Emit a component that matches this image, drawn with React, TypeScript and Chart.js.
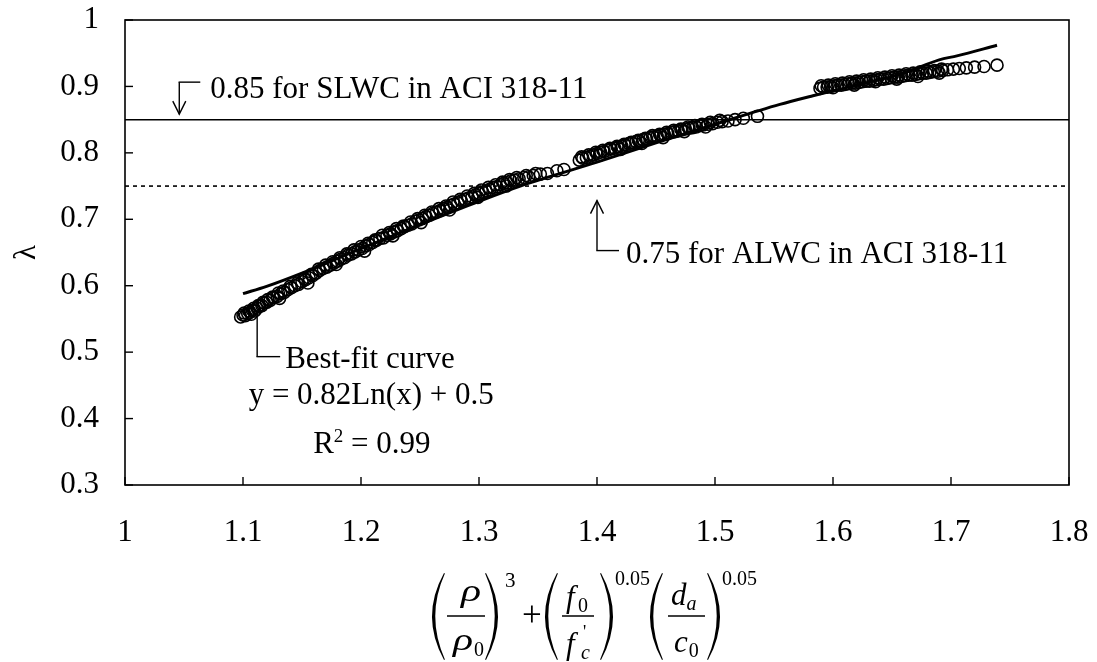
import React, { useEffect, useRef } from 'react';
import { Chart, registerables } from 'chart.js';

Chart.register(...registerables);

const xTickLabels = ['1', '1.1', '1.2', '1.3', '1.4', '1.5', '1.6', '1.7', '1.8'];
const yTickLabels = ['0.3', '0.4', '0.5', '0.6', '0.7', '0.8', '0.9', '1'];
const xAxisRange = [1, 1.8];
const yAxisRange = [0.3, 1];

const scatterX = [
  1.098, 1.100, 1.102, 1.104, 1.106, 1.108, 1.110, 1.112, 1.114, 1.116, 1.118, 1.120,
  1.123, 1.126, 1.129, 1.132, 1.135, 1.138, 1.141, 1.144, 1.147, 1.150, 1.153, 1.156,
  1.159, 1.162, 1.165, 1.168, 1.171, 1.174, 1.177, 1.180, 1.183, 1.186, 1.189, 1.192,
  1.195, 1.198, 1.201, 1.204, 1.207, 1.210, 1.213, 1.216, 1.219, 1.222, 1.225, 1.228,
  1.231, 1.234, 1.237, 1.240, 1.243, 1.246, 1.249, 1.252, 1.255, 1.258, 1.261, 1.264,
  1.267, 1.270, 1.273, 1.276, 1.279, 1.282, 1.285, 1.288, 1.291, 1.294, 1.297, 1.300,
  1.303, 1.306, 1.309, 1.312, 1.315, 1.318, 1.321, 1.324, 1.327, 1.330, 1.334, 1.338,
  1.342, 1.346, 1.352, 1.358, 1.366, 1.372,
  1.385, 1.388, 1.391, 1.394, 1.397, 1.400, 1.403, 1.406, 1.409, 1.412, 1.415, 1.418,
  1.421, 1.424, 1.427, 1.430, 1.433, 1.436, 1.439, 1.442, 1.445, 1.448, 1.451, 1.454,
  1.457, 1.460, 1.463, 1.466, 1.469, 1.472, 1.475, 1.478, 1.481, 1.484, 1.487, 1.490,
  1.494, 1.498, 1.502, 1.506, 1.511, 1.517, 1.524, 1.536,
  1.589, 1.592, 1.595, 1.598, 1.601, 1.604, 1.607, 1.610, 1.613, 1.616, 1.619, 1.622,
  1.625, 1.628, 1.631, 1.634, 1.637, 1.640, 1.643, 1.646, 1.649, 1.652, 1.655, 1.658,
  1.661, 1.664, 1.667, 1.670, 1.673, 1.676, 1.679, 1.682, 1.685, 1.689, 1.693, 1.697,
  1.702, 1.707, 1.713, 1.720, 1.728, 1.739,
];
const scatterY = [
  0.553, 0.556, 0.555, 0.558, 0.560, 0.563, 0.562, 0.566, 0.569, 0.570, 0.574, 0.575,
  0.578, 0.582, 0.584, 0.588, 0.590, 0.594, 0.597, 0.600, 0.602, 0.606, 0.609, 0.612,
  0.615, 0.619, 0.623, 0.626, 0.628, 0.631, 0.634, 0.637, 0.640, 0.642, 0.646, 0.648,
  0.651, 0.654, 0.656, 0.660, 0.662, 0.665, 0.668, 0.671, 0.672, 0.676, 0.678, 0.681,
  0.683, 0.686, 0.689, 0.691, 0.693, 0.697, 0.699, 0.701, 0.704, 0.706, 0.709, 0.711,
  0.713, 0.716, 0.718, 0.721, 0.723, 0.725, 0.728, 0.730, 0.732, 0.734, 0.737, 0.739,
  0.741, 0.743, 0.745, 0.748, 0.749, 0.752, 0.754, 0.755, 0.758, 0.759, 0.761, 0.763,
  0.764, 0.766, 0.768, 0.769, 0.773, 0.775,
  0.789, 0.792, 0.793, 0.795, 0.797, 0.799, 0.801, 0.802, 0.804, 0.806, 0.807, 0.809,
  0.810, 0.812, 0.814, 0.815, 0.817, 0.818, 0.820, 0.821, 0.823, 0.824, 0.825, 0.827,
  0.828, 0.829, 0.831, 0.832, 0.833, 0.835, 0.836, 0.837, 0.838, 0.839, 0.841, 0.842,
  0.843, 0.844, 0.846, 0.847, 0.848, 0.850, 0.852, 0.855,
  0.897, 0.899, 0.899, 0.900, 0.901, 0.902, 0.902, 0.903, 0.904, 0.905, 0.905, 0.906,
  0.907, 0.908, 0.908, 0.909, 0.910, 0.911, 0.911, 0.912, 0.913, 0.914, 0.914, 0.915,
  0.916, 0.917, 0.917, 0.918, 0.919, 0.920, 0.920, 0.921, 0.922, 0.923, 0.924, 0.925,
  0.926, 0.927, 0.928, 0.929, 0.930, 0.932,
];

// additional specimens spread slightly above / below the main band
const extraX = [
  1.101, 1.105, 1.109, 1.113, 1.117, 1.121, 1.125, 1.130, 1.134, 1.140, 1.146, 1.152,
  1.158, 1.164, 1.170, 1.176, 1.182, 1.188, 1.194, 1.200, 1.206, 1.212, 1.218, 1.224,
  1.230, 1.236, 1.242, 1.248, 1.254, 1.260, 1.266, 1.272, 1.278, 1.284, 1.290, 1.296,
  1.302, 1.308, 1.314, 1.320, 1.326, 1.332, 1.340, 1.348,
  1.107, 1.131, 1.155, 1.179, 1.203, 1.227, 1.251, 1.275, 1.299, 1.323,
  1.387, 1.393, 1.399, 1.405, 1.411, 1.417, 1.423, 1.429, 1.435, 1.441, 1.447, 1.453,
  1.459, 1.465, 1.471, 1.477, 1.483, 1.489, 1.496, 1.504,
  1.402, 1.420, 1.438, 1.456, 1.474, 1.492,
  1.590, 1.596, 1.602, 1.608, 1.614, 1.620, 1.626, 1.632, 1.638, 1.644, 1.650, 1.656,
  1.662, 1.668, 1.674, 1.680, 1.686, 1.692,
  1.600, 1.618, 1.636, 1.654, 1.672, 1.690,
];
const extraY = [
  0.559, 0.562, 0.566, 0.570, 0.575, 0.579, 0.583, 0.589, 0.592, 0.599, 0.604, 0.611,
  0.617, 0.625, 0.631, 0.636, 0.642, 0.648, 0.654, 0.659, 0.664, 0.669, 0.676, 0.680,
  0.686, 0.690, 0.696, 0.701, 0.706, 0.711, 0.716, 0.720, 0.726, 0.730, 0.735, 0.739,
  0.744, 0.748, 0.752, 0.756, 0.760, 0.763, 0.766, 0.769,
  0.557, 0.581, 0.604, 0.632, 0.652, 0.675, 0.695, 0.714, 0.733, 0.750,
  0.794, 0.797, 0.801, 0.804, 0.807, 0.810, 0.813, 0.816, 0.819, 0.822, 0.826, 0.828,
  0.831, 0.834, 0.836, 0.839, 0.841, 0.843, 0.846, 0.849,
  0.796, 0.805, 0.814, 0.823, 0.832, 0.839,
  0.901, 0.902, 0.904, 0.905, 0.907, 0.908, 0.910, 0.911, 0.913, 0.914, 0.916, 0.917,
  0.919, 0.920, 0.922, 0.923, 0.924, 0.926,
  0.898, 0.902, 0.907, 0.911, 0.915, 0.920,
];

const fitX = [1.100, 1.120, 1.150, 1.200, 1.250, 1.300, 1.335, 1.400, 1.450, 1.500, 1.555, 1.583, 1.620, 1.660, 1.690, 1.705, 1.739];
const fitY = [0.588, 0.599, 0.619, 0.656, 0.692, 0.727, 0.750, 0.786, 0.815, 0.843, 0.873, 0.886, 0.902, 0.920, 0.940, 0.946, 0.962];

const slwcLevel = 0.85;
const alwcLevel = 0.75;

const SERIF = "'Liberation Serif', 'Times New Roman', serif";

function line(ctx: CanvasRenderingContext2D, x1: number, y1: number, x2: number, y2: number) {
  ctx.beginPath();
  ctx.moveTo(x1, y1);
  ctx.lineTo(x2, y2);
  ctx.stroke();
}

function arrowHead(ctx: CanvasRenderingContext2D, tx: number, ty: number, dir: number) {
  ctx.beginPath();
  ctx.moveTo(tx - 6.5, ty - dir * 13);
  ctx.lineTo(tx, ty);
  ctx.lineTo(tx + 6.5, ty - dir * 13);
  ctx.stroke();
}

function paren(ctx: CanvasRenderingContext2D, xExt: number, top: number, bottom: number, dir: number) {
  const tip = xExt + dir * 12;
  const mid = (top + bottom) / 2;
  const cOuter = 2 * xExt - tip;
  const cInner = 2 * (xExt + dir * 2.8) - tip;
  ctx.beginPath();
  ctx.moveTo(tip, top);
  ctx.quadraticCurveTo(cOuter, mid, tip, bottom);
  ctx.lineTo(tip + dir * 0.9, bottom - 0.6);
  ctx.quadraticCurveTo(cInner, mid, tip + dir * 0.9, top + 0.6);
  ctx.closePath();
  ctx.fill();
}

function text(ctx: CanvasRenderingContext2D, s: string, x: number, y: number, font: string, align: CanvasTextAlign = 'left') {
  ctx.font = font;
  ctx.textAlign = align;
  ctx.textBaseline = 'alphabetic';
  ctx.fillText(s, x, y);
  return ctx.measureText(s).width;
}

function wideText(ctx: CanvasRenderingContext2D, s: string, x: number, y: number, font: string, sx: number) {
  ctx.save();
  ctx.translate(x, y);
  ctx.scale(sx, 1);
  ctx.font = font;
  ctx.textAlign = 'left';
  ctx.textBaseline = 'alphabetic';
  ctx.fillText(s, 0, 0);
  const w = ctx.measureText(s).width * sx;
  ctx.restore();
  return w;
}

const overlayPlugin = {
  id: 'overlay',
  afterDraw(chart: any) {
    const { ctx, chartArea: a, scales } = chart;
    const xs = scales.x;
    const ys = scales.y;
    ctx.save();
    ctx.strokeStyle = '#000';
    ctx.fillStyle = '#000';
    ctx.lineCap = 'butt';

    // frame
    ctx.lineWidth = 1.6;
    ctx.strokeRect(a.left, a.top, a.right - a.left, a.bottom - a.top);

    // inward tick marks
    ctx.lineWidth = 1.4;
    xs.ticks.forEach((t: any) => {
      const px = xs.getPixelForValue(t.value);
      line(ctx, px, a.bottom, px, a.bottom - 8);
    });
    ys.ticks.forEach((t: any) => {
      const py = ys.getPixelForValue(t.value);
      line(ctx, a.left, py, a.left + 8, py);
    });

    const big = `31px ${SERIF}`;

    // SLWC annotation
    const p85 = ys.getPixelForValue(slwcLevel);
    const ax1 = xs.getPixelForValue(1.046);
    ctx.lineWidth = 1.4;
    line(ctx, ax1, p85 - 37.5, ax1, p85 - 5.5);
    line(ctx, ax1 - 0.7, p85 - 37.5, ax1 + 21, p85 - 37.5);
    arrowHead(ctx, ax1, p85 - 5.5, 1);
    text(ctx, '0.85 for SLWC in ACI 318-11', ax1 + 31, p85 - 21.5, big);

    // ALWC annotation
    const p75 = ys.getPixelForValue(alwcLevel);
    const ax2 = xs.getPixelForValue(1.4);
    line(ctx, ax2, p75 + 14.5, ax2, p75 + 64.5);
    line(ctx, ax2 - 0.7, p75 + 64.5, ax2 + 22, p75 + 64.5);
    arrowHead(ctx, ax2, p75 + 14.5, -1);
    text(ctx, '0.75 for ALWC in ACI 318-11', ax2 + 29, p75 + 76.5, big);

    // Best-fit annotation
    const p50 = ys.getPixelForValue(0.5);
    const bx = xs.getPixelForValue(1.112);
    line(ctx, bx, ys.getPixelForValue(0.563), bx, p50 + 4.5);
    line(ctx, bx - 0.7, p50 + 4.5, bx + 23, p50 + 4.5);
    text(ctx, 'Best-fit curve', bx + 28, p50 + 15.5, big);
    text(ctx, 'y = 0.82Ln(x) + 0.5', bx + 114, p50 + 51.5, big, 'center');
    const wR = text(ctx, 'R', bx + 56, p50 + 100.5, big);
    const w2 = text(ctx, '2', bx + 56 + wR, p50 + 90, `19px ${SERIF}`);
    text(ctx, ' = 0.99', bx + 56 + wR + w2, p50 + 100.5, big);

    // x-axis title (formula)
    const cx = (a.left + a.right) / 2;
    const o = cx - 165;
    const top = a.bottom + 88;
    const bot = a.bottom + 175;
    const fl = a.bottom + 131;
    const it = `italic 31px ${SERIF}`;
    const sub = `20px ${SERIF}`;
    const subIt = `italic 20px ${SERIF}`;
    ctx.lineWidth = 1.5;

    // group 1: rho / rho0
    paren(ctx, o, top, bot, 1);
    line(ctx, o + 15, fl, o + 53, fl);
    wideText(ctx, 'ρ', o + 29, fl - 15, it, 1.35);
    const wr = wideText(ctx, 'ρ', o + 21, fl + 34, it, 1.35);
    text(ctx, '0', o + 21 + wr + 1, fl + 40, sub);
    paren(ctx, o + 66, top, bot, -1);
    text(ctx, '3', o + 73, top + 14, `21px ${SERIF}`);

    // plus
    text(ctx, '+', o + 90, fl + 10, `35px ${SERIF}`);

    // group 2: f0 / f'c
    paren(ctx, o + 113, top, bot, 1);
    line(ctx, o + 130, fl, o + 162, fl);
    text(ctx, 'f', o + 134, fl - 9, it);
    text(ctx, '0', o + 146, fl - 4, sub);
    text(ctx, 'f', o + 134, fl + 38, it);
    text(ctx, "'", o + 151, fl + 22, `18px ${SERIF}`);
    text(ctx, 'c', o + 149, fl + 43, subIt);
    paren(ctx, o + 181, top, bot, -1);
    text(ctx, '0.05', o + 183, top + 12, sub);

    // group 3: d_a / c0
    paren(ctx, o + 218, top, bot, 1);
    line(ctx, o + 236, fl, o + 273, fl);
    const wd = text(ctx, 'd', o + 239, fl - 11, it);
    text(ctx, 'a', o + 239 + wd, fl - 6, subIt);
    const wc = text(ctx, 'c', o + 242, fl + 36, it);
    text(ctx, '0', o + 242 + wc + 1, fl + 41, sub);
    paren(ctx, o + 288, top, bot, -1);
    text(ctx, '0.05', o + 290, top + 12, sub);

    ctx.restore();
  },
};

export default function App() {
  const canvasRef = useRef<HTMLCanvasElement | null>(null);

  useEffect(() => {
    document.body.style.margin = '0';
    const canvas = canvasRef.current;
    if (!canvas) return;

    const scatterData = scatterX
      .map((x, i) => ({ x, y: scatterY[i] }))
      .concat(extraX.map((x, i) => ({ x, y: extraY[i] })));
    const fitData = fitX.map((x, i) => ({ x, y: fitY[i] }));
    const slwcData = xAxisRange.map((x) => ({ x, y: slwcLevel }));
    const alwcData = xAxisRange.map((x) => ({ x, y: alwcLevel }));

    const chart = new Chart(canvas, {
      type: 'scatter',
      data: {
        datasets: [
          {
            label: 'data',
            data: scatterData,
            pointStyle: 'circle',
            pointRadius: 6,
            pointBorderWidth: 1.6,
            pointBorderColor: '#000',
            pointBackgroundColor: 'rgba(0,0,0,0)',
            showLine: false,
          },
          {
            label: 'fit',
            data: fitData,
            showLine: true,
            borderColor: '#000',
            borderWidth: 3,
            pointRadius: 0,
            cubicInterpolationMode: 'monotone',
          },
          {
            label: 'SLWC',
            data: slwcData,
            showLine: true,
            borderColor: '#000',
            borderWidth: 1.5,
            pointRadius: 0,
          },
          {
            label: 'ALWC',
            data: alwcData,
            showLine: true,
            borderColor: '#000',
            borderWidth: 1.6,
            borderDash: [4, 4],
            pointRadius: 0,
          },
        ],
      },
      options: {
        animation: false,
        responsive: false,
        devicePixelRatio: 1,
        layout: { padding: { top: 20, right: 28, left: 0, bottom: 0 } },
        plugins: {
          legend: { display: false },
          tooltip: { enabled: false },
        },
        scales: {
          x: {
            type: 'linear',
            min: xAxisRange[0],
            max: xAxisRange[1],
            grid: { display: false, drawTicks: false },
            border: { display: false },
            afterFit: (scale: any) => {
              scale.height = 177;
              scale.paddingLeft = 0;
              scale.paddingRight = 0;
            },
            ticks: {
              stepSize: 0.1,
              autoSkip: false,
              maxRotation: 0,
              minRotation: 0,
              padding: 29,
              color: '#000',
              font: { family: SERIF, size: 31 },
              callback: (_v: any, i: number) => xTickLabels[i] ?? '',
            },
          },
          y: {
            type: 'linear',
            min: yAxisRange[0],
            max: yAxisRange[1],
            grid: { display: false, drawTicks: false },
            border: { display: false },
            afterFit: (scale: any) => {
              scale.width = 125;
              scale.paddingTop = 0;
              scale.paddingBottom = 0;
            },
            title: {
              display: true,
              text: 'λ',
              color: '#000',
              font: { family: SERIF, size: 31 },
              padding: { top: 8, bottom: 0 },
            },
            ticks: {
              stepSize: 0.1,
              autoSkip: false,
              padding: 26,
              color: '#000',
              font: { family: SERIF, size: 31 },
              callback: (_v: any, i: number) => yTickLabels[i] ?? '',
            },
          },
        },
      },
      plugins: [overlayPlugin],
    });

    return () => {
      chart.destroy();
    };
  }, []);

  return (
    <div style={{ position: 'relative', width: 1097, height: 662, background: '#fff' }}>
      <canvas ref={canvasRef} width={1097} height={662} style={{ display: 'block' }} />
    </div>
  );
}
